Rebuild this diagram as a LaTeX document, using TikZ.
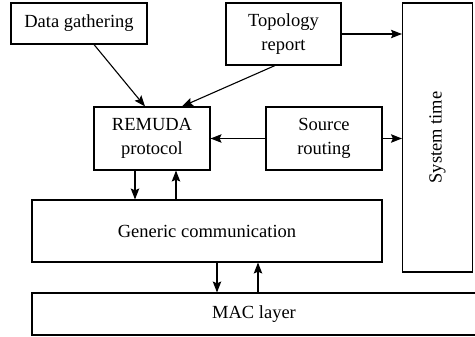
\documentclass[tikz,border=0pt]{standalone}
\usepackage{fontspec}
\setmainfont{Liberation Serif}
\usetikzlibrary{arrows.meta}

\begin{document}
\begin{tikzpicture}[x=1pt,y=-1pt,
    box/.style={rectangle,draw,line width=1.1pt,inner sep=0pt,align=center,font=\fontsize{18.5}{24}\selectfont},
    arrow/.style={-{Stealth[length=11pt,width=8.5pt,inset=2pt]},line width=1.1pt}]
\useasboundingbox (0,0) rectangle (475,337);

% Upper row
\node[box,minimum width=136pt,minimum height=41pt] (data) at (79,23.5) {Data gathering};
\node[box,minimum width=115pt,minimum height=62pt] (topo) at (283.5,34) {Topology\\report};
\node[box,minimum width=70pt,minimum height=269pt] (systime) at (437.5,137.5) {\rotatebox{90}{System time}};

% Middle row
\node[box,minimum width=116pt,minimum height=63pt] (remuda) at (152,138.5) {REMUDA\\protocol};
\node[box,minimum width=116pt,minimum height=63pt] (srcroute) at (324,138.5) {Source\\routing};

% Lower layers
\node[box,minimum width=350pt,minimum height=62pt] (generic) at (207,231) {Generic communication};
\node[box,minimum width=444pt,minimum height=42pt] (mac) at (254,314) {MAC layer};

\draw[arrow] ([xshift=15pt]data.south) -- ([xshift=-7pt]remuda.north);
\draw[arrow] ([xshift=-8.5pt]topo.south) -- ([xshift=30pt]remuda.north);
\draw[arrow] (topo.east) -- (topo.east -| systime.west);
\draw[arrow] (srcroute.east) -- (srcroute.east -| systime.west);
\draw[arrow] (srcroute.west) -- (remuda.east);

\draw[arrow] ([xshift=-17pt]remuda.south) -- ([xshift=-17pt]remuda.south |- generic.north);
\draw[arrow] ([xshift=24pt]remuda.south |- generic.north) -- ([xshift=24pt]remuda.south);
\draw[arrow] ([xshift=10pt]generic.south) -- ([xshift=10pt]generic.south |- mac.north);
\draw[arrow] ([xshift=51pt]generic.south |- mac.north) -- ([xshift=51pt]generic.south);

\end{tikzpicture}
\end{document}
